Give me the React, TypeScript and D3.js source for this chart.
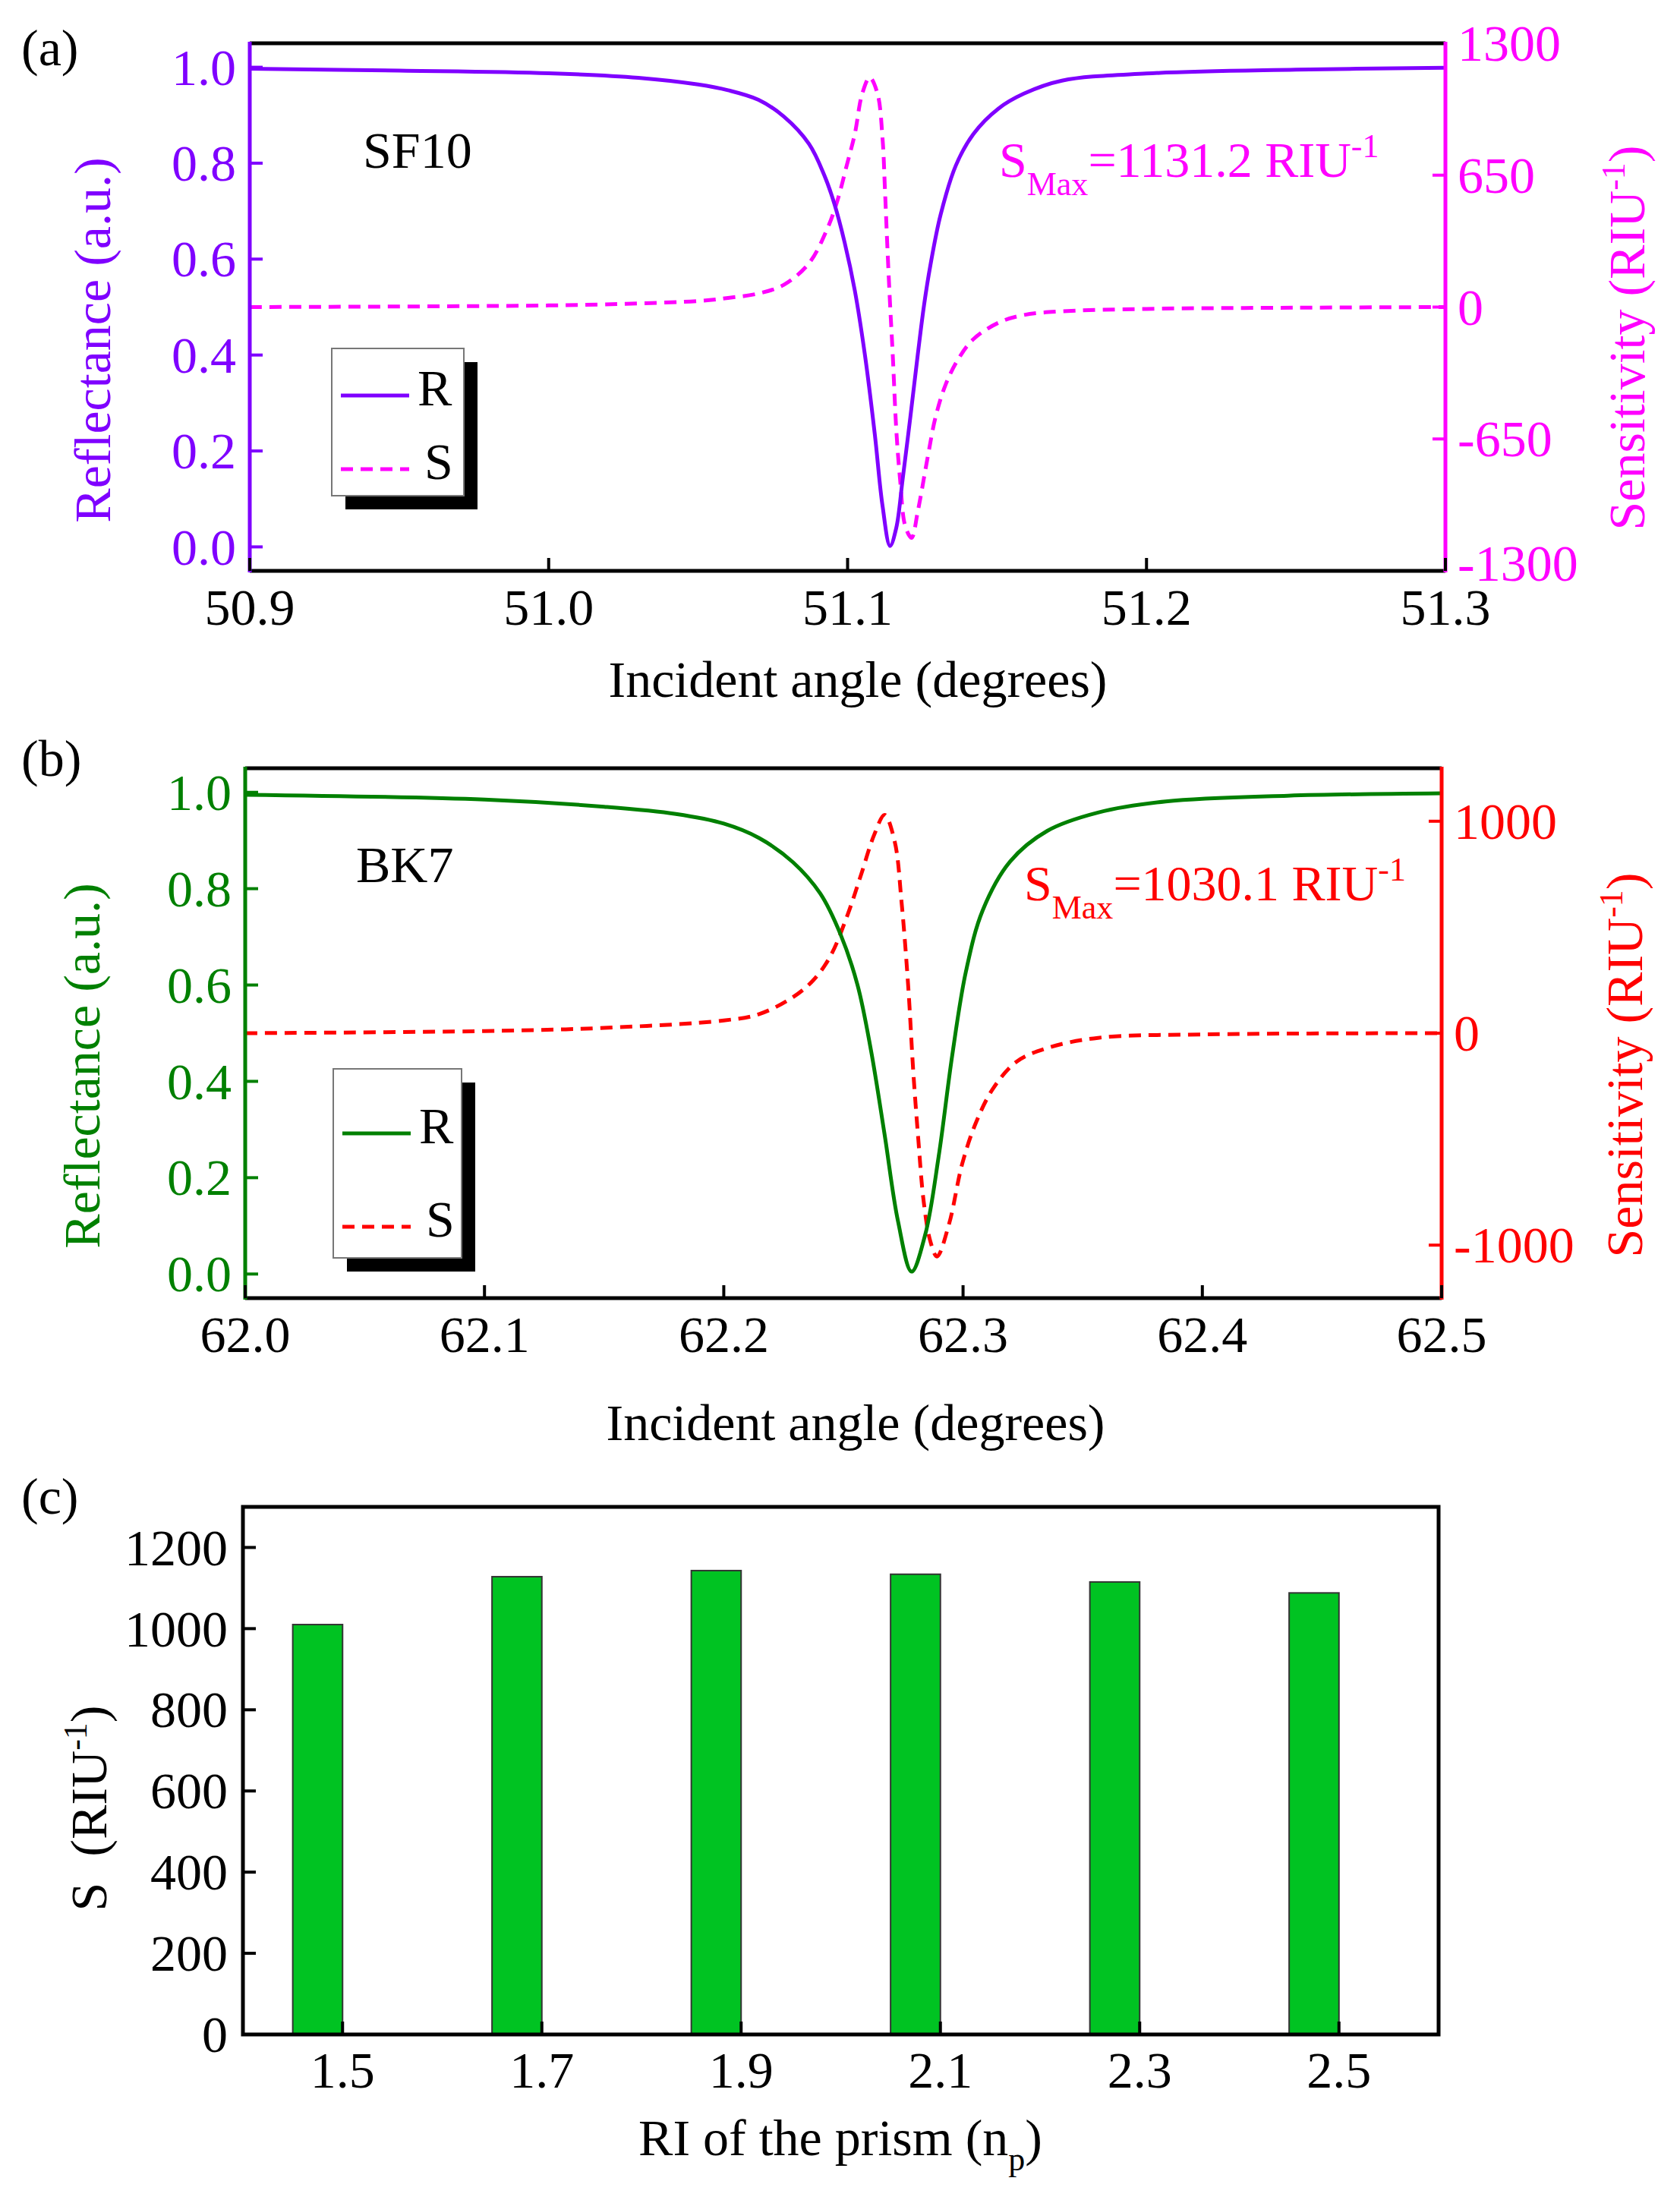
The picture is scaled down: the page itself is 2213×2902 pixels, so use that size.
import * as d3 from 'd3'

// ---- data ----
// (a) SF10 prism: [incident angle, reflectance]
const sf10Reflectance: [number, number][] = [
  [50.9, 0.997], [50.95, 0.993], [51.0, 0.9875], [51.03, 0.978], [51.05, 0.964],
  [51.06, 0.952], [51.0702, 0.932], [51.0787, 0.897], [51.0871, 0.84], [51.0922, 0.775],
  [51.0956, 0.715], [51.099, 0.635], [51.1024, 0.535], [51.1058, 0.4], [51.1091, 0.235],
  [51.1117, 0.085], [51.1142, 0.002], [51.1163, 0.04], [51.1184, 0.14], [51.121, 0.271],
  [51.1235, 0.402], [51.1256, 0.505], [51.1277, 0.587], [51.1311, 0.692], [51.1362, 0.795],
  [51.1421, 0.861], [51.1505, 0.914], [51.159, 0.945], [51.1717, 0.972], [51.2, 0.987],
  [51.25, 0.995], [51.3, 0.999],
]
// (a) SF10 prism: [incident angle, sensitivity]
const sf10Sensitivity: [number, number][] = [
  [50.9, 0], [51.0, 8], [51.03, 18], [51.05, 30], [51.06, 45], [51.0702, 67],
  [51.0787, 110], [51.0871, 216], [51.093, 379], [51.0964, 515], [51.0998, 703],
  [51.1024, 852], [51.1049, 1052], [51.1074, 1131], [51.11, 1052], [51.1117, 828],
  [51.1125, 578], [51.1134, 266], [51.1142, 17], [51.1151, -233], [51.1163, -607],
  [51.1176, -856], [51.1193, -1080], [51.1214, -1137], [51.1235, -1006], [51.1269, -731],
  [51.1294, -544], [51.1328, -382], [51.137, -257], [51.1421, -158], [51.1505, -77],
  [51.159, -39], [51.1717, -21], [51.2, -9], [51.25, -3], [51.3, 0],
]

// (b) BK7 prism: [incident angle, reflectance]
const bk7Reflectance: [number, number][] = [
  [62.0, 0.995], [62.1, 0.985], [62.15, 0.97], [62.18, 0.955], [62.2, 0.935],
  [62.2148, 0.905], [62.2289, 0.855], [62.2403, 0.79], [62.2488, 0.705], [62.2559, 0.6],
  [62.2615, 0.465], [62.2672, 0.29], [62.2728, 0.11], [62.2785, 0.005], [62.2842, 0.082],
  [62.2898, 0.244], [62.2955, 0.455], [62.3012, 0.628], [62.3082, 0.755], [62.3196, 0.856],
  [62.3352, 0.92], [62.3564, 0.958], [62.3847, 0.981], [62.4357, 0.993], [62.5, 0.998],
]
// (b) BK7 prism: [incident angle, sensitivity]
const bk7Sensitivity: [number, number][] = [
  [62.0, 0], [62.1, 10], [62.15, 25], [62.2, 60], [62.2148, 90], [62.2289, 170],
  [62.2374, 250], [62.2445, 362], [62.2516, 554], [62.2573, 745], [62.2629, 937],
  [62.2672, 1030], [62.2714, 906], [62.2743, 618], [62.2771, 218], [62.2792, -182],
  [62.2813, -501], [62.2835, -790], [62.2863, -981], [62.2891, -1054], [62.2941, -902],
  [62.2997, -614], [62.3054, -422], [62.3125, -262], [62.3224, -134], [62.3352, -70],
  [62.3564, -22], [62.399, -6], [62.5, 0],
]

// (c) maximum sensitivity vs prism RI
const prismRI = ['1.5', '1.7', '1.9', '2.1', '2.3', '2.5']
const maxSensitivity = [1010, 1128, 1143, 1134, 1115, 1088]

const reflTicks = [0, 0.2, 0.4, 0.6, 0.8, 1.0]
const sf10AngleTicks = [50.9, 51.0, 51.1, 51.2, 51.3]
const bk7AngleTicks = [62.0, 62.1, 62.2, 62.3, 62.4, 62.5]
const sf10SensTicks = [-1300, -650, 0, 650, 1300]
const bk7SensTicks = [-1000, 0, 1000]
const barTicks = [0, 200, 400, 600, 800, 1000, 1200]

const FONT = '"Liberation Serif", "Times New Roman", serif'
const FS = 68
const TICK = 17

interface Box { left: number; right: number; top: number; bottom: number }

interface LinePanelCfg {
  box: Box
  xDomain: [number, number]
  xTicks: number[]
  sDomain: [number, number]
  sTicks: number[]
  rColor: string
  sColor: string
  rData: [number, number][]
  sData: [number, number][]
  tag: string
  tagY: number
  material: string
  materialAt: [number, number]
  smax: string
  smaxAt: [number, number]
  legend: { x: number; y: number; w: number; h: number; rY: number; sY: number }
  leftTitleX: number
  leftTitleY: number
  rightTitleX: number
  rightTitleY: number
  xTitleX: number
  xTitleY: number
}

function LinePanel(c: LinePanelCfg) {
  const { box } = c
  const x = d3.scaleLinear().domain(c.xDomain).range([box.left, box.right])
  const yR = d3.scaleLinear().domain([-0.05, 1.05]).range([box.bottom, box.top])
  const yS = d3.scaleLinear().domain(c.sDomain).range([box.bottom, box.top])
  const curve = d3.curveCatmullRom.alpha(0.5)
  const rLine = d3.line<[number, number]>().x(d => x(d[0])).y(d => yR(d[1])).curve(curve)
  const sLine = d3.line<[number, number]>().x(d => x(d[0])).y(d => yS(d[1])).curve(curve)
  const lg = c.legend
  const [sMin, sMax] = c.sDomain
  return (
    <g fontFamily={FONT}>
      <path d={sLine(c.sData) ?? ''} fill="none" stroke={c.sColor} strokeWidth={5} strokeDasharray="16 10" />
      <path d={rLine(c.rData) ?? ''} fill="none" stroke={c.rColor} strokeWidth={5} />

      {/* frame */}
      <line x1={box.left} x2={box.right} y1={box.top} y2={box.top} stroke="#000" strokeWidth={5} />
      <line x1={box.left} x2={box.right} y1={box.bottom} y2={box.bottom} stroke="#000" strokeWidth={5} />
      <line x1={box.left} x2={box.left} y1={box.top - 2} y2={box.bottom + 2} stroke={c.rColor} strokeWidth={5} />
      <line x1={box.right} x2={box.right} y1={box.top - 2} y2={box.bottom + 2} stroke={c.sColor} strokeWidth={5} />

      {/* bottom axis */}
      {c.xTicks.map(t => (
        <g key={`x${t}`}>
          <line x1={x(t)} x2={x(t)} y1={box.bottom} y2={box.bottom - TICK} stroke="#000" strokeWidth={4} />
          <text x={x(t)} y={box.bottom + 71} textAnchor="middle" fontSize={FS} fill="#000">{t.toFixed(1)}</text>
        </g>
      ))}
      {/* left axis */}
      {reflTicks.map(t => (
        <g key={`r${t}`}>
          <line x1={box.left} x2={box.left + TICK} y1={yR(t)} y2={yR(t)} stroke={c.rColor} strokeWidth={4} />
          <text x={box.left - 18} y={yR(t)} dy="0.34em" textAnchor="end" fontSize={FS} fill={c.rColor}>{t.toFixed(1)}</text>
        </g>
      ))}
      {/* right axis */}
      {c.sTicks.map(t => (
        <g key={`s${t}`}>
          {t !== sMin && t !== sMax && (
            <line x1={box.right} x2={box.right - TICK} y1={yS(t)} y2={yS(t)} stroke={c.sColor} strokeWidth={4} />
          )}
          <text x={box.right + 16} y={yS(t) - (t === sMin ? 10 : 0)} dy="0.34em" textAnchor="start" fontSize={FS} fill={c.sColor}>{t}</text>
        </g>
      ))}

      {/* titles */}
      <text transform={`translate(${c.leftTitleX},${c.leftTitleY}) rotate(-90)`} textAnchor="middle" fontSize={FS} fill={c.rColor}>
        Reflectance (a.u.)
      </text>
      <text transform={`translate(${c.rightTitleX},${c.rightTitleY}) rotate(-90)`} textAnchor="middle" fontSize={FS} fill={c.sColor}>
        Sensitivity (RIU<tspan fontSize={44} dy={-26}>-1</tspan><tspan dy={26}>)</tspan>
      </text>
      <text x={c.xTitleX} y={c.xTitleY} textAnchor="middle" fontSize={FS} fill="#000">Incident angle (degrees)</text>
      <text x={28} y={c.tagY} fontSize={FS} fill="#000">{c.tag}</text>
      <text x={c.materialAt[0]} y={c.materialAt[1]} fontSize={FS} fill="#000">{c.material}</text>
      <text x={c.smaxAt[0]} y={c.smaxAt[1]} fontSize={66} fill={c.sColor}>
        S<tspan fontSize={44} dy={24}>Max</tspan>
        <tspan dy={-24}>{`=${c.smax} RIU`}</tspan>
        <tspan fontSize={44} dy={-26}>-1</tspan>
      </text>

      {/* legend */}
      <rect x={lg.x + 18} y={lg.y + 18} width={lg.w} height={lg.h} fill="#000" />
      <rect x={lg.x} y={lg.y} width={lg.w} height={lg.h} fill="#fff" stroke="#777" strokeWidth={2} />
      <line x1={lg.x + 12} x2={lg.x + 102} y1={lg.rY} y2={lg.rY} stroke={c.rColor} strokeWidth={5} />
      <text x={lg.x + 113} y={lg.rY + 13} fontSize={FS} fill="#000">R</text>
      <line x1={lg.x + 12} x2={lg.x + 102} y1={lg.sY} y2={lg.sY} stroke={c.sColor} strokeWidth={5} strokeDasharray="16 10" />
      <text x={lg.x + 122} y={lg.sY + 13} fontSize={FS} fill="#000">S</text>
    </g>
  )
}

function BarPanel() {
  const box: Box = { left: 320, right: 1895, top: 1985, bottom: 2680 }
  const x = d3.scalePoint<string>().domain(prismRI).range([box.left, box.right]).padding(0.5)
  const y = d3.scaleLinear().domain([0, 1300]).range([box.bottom, box.top])
  const barW = x.step() * 0.25
  return (
    <g fontFamily={FONT}>
      {prismRI.map((k, i) => (
        <rect key={k} x={(x(k) ?? 0) - barW} y={y(maxSensitivity[i])} width={barW}
          height={y(0) - y(maxSensitivity[i])} fill="#00c322" stroke="#333" strokeWidth={2} />
      ))}
      <rect x={box.left} y={box.top} width={box.right - box.left} height={box.bottom - box.top}
        fill="none" stroke="#000" strokeWidth={5} />
      {prismRI.map(k => (
        <g key={`t${k}`}>
          <line x1={x(k)} x2={x(k)} y1={box.bottom} y2={box.bottom - TICK} stroke="#000" strokeWidth={4} />
          <text x={x(k)} y={box.bottom + 70} textAnchor="middle" fontSize={FS}>{k}</text>
        </g>
      ))}
      {barTicks.map(t => (
        <g key={`y${t}`}>
          <line x1={box.left} x2={box.left + TICK} y1={y(t)} y2={y(t)} stroke="#000" strokeWidth={4} />
          <text x={box.left - 20} y={y(t)} dy="0.34em" textAnchor="end" fontSize={FS}>{t}</text>
        </g>
      ))}
      <text transform="translate(140,2382) rotate(-90)" textAnchor="middle" fontSize={FS}>
        S{'\u2002'}(RIU<tspan fontSize={44} dy={-26}>-1</tspan><tspan dy={26}>)</tspan>
      </text>
      <text x={1107} y={2839} textAnchor="middle" fontSize={FS}>
        RI of the prism (n<tspan fontSize={44} dy={20}>p</tspan><tspan dy={-20}>)</tspan>
      </text>
      <text x={28} y={1994} fontSize={FS}>(c)</text>
    </g>
  )
}

export default function App() {
  return (
    <>
      <style>{'body{margin:0;background:#fff}'}</style>
      <svg width={2213} height={2902} viewBox="0 0 2213 2902" style={{ display: 'block', background: '#fff' }}>
        <LinePanel
          box={{ left: 329, right: 1904, top: 57, bottom: 752 }}
          xDomain={[50.9, 51.3]}
          xTicks={sf10AngleTicks}
          sDomain={[-1300, 1300]}
          sTicks={sf10SensTicks}
          rColor="#7f00ff"
          sColor="#ff00ff"
          rData={sf10Reflectance}
          sData={sf10Sensitivity}
          tag="(a)"
          tagY={86}
          material="SF10"
          materialAt={[478, 221]}
          smax="1131.2"
          smaxAt={[1316, 233]}
          legend={{ x: 437, y: 459, w: 174, h: 194, rY: 521, sY: 618 }}
          leftTitleX={145}
          leftTitleY={448}
          rightTitleX={2166}
          rightTitleY={445}
          xTitleX={1130}
          xTitleY={918}
        />
        <LinePanel
          box={{ left: 323, right: 1899, top: 1012, bottom: 1710 }}
          xDomain={[62.0, 62.5]}
          xTicks={bk7AngleTicks}
          sDomain={[-1250, 1250]}
          sTicks={bk7SensTicks}
          rColor="#008000"
          sColor="#ff0000"
          rData={bk7Reflectance}
          sData={bk7Sensitivity}
          tag="(b)"
          tagY={1022}
          material="BK7"
          materialAt={[469, 1162]}
          smax="1030.1"
          smaxAt={[1349, 1186]}
          legend={{ x: 439, y: 1408, w: 169, h: 249, rY: 1493, sY: 1616 }}
          leftTitleX={131}
          leftTitleY={1404}
          rightTitleX={2163}
          rightTitleY={1403}
          xTitleX={1127}
          xTitleY={1897}
        />
        <BarPanel />
      </svg>
    </>
  )
}
